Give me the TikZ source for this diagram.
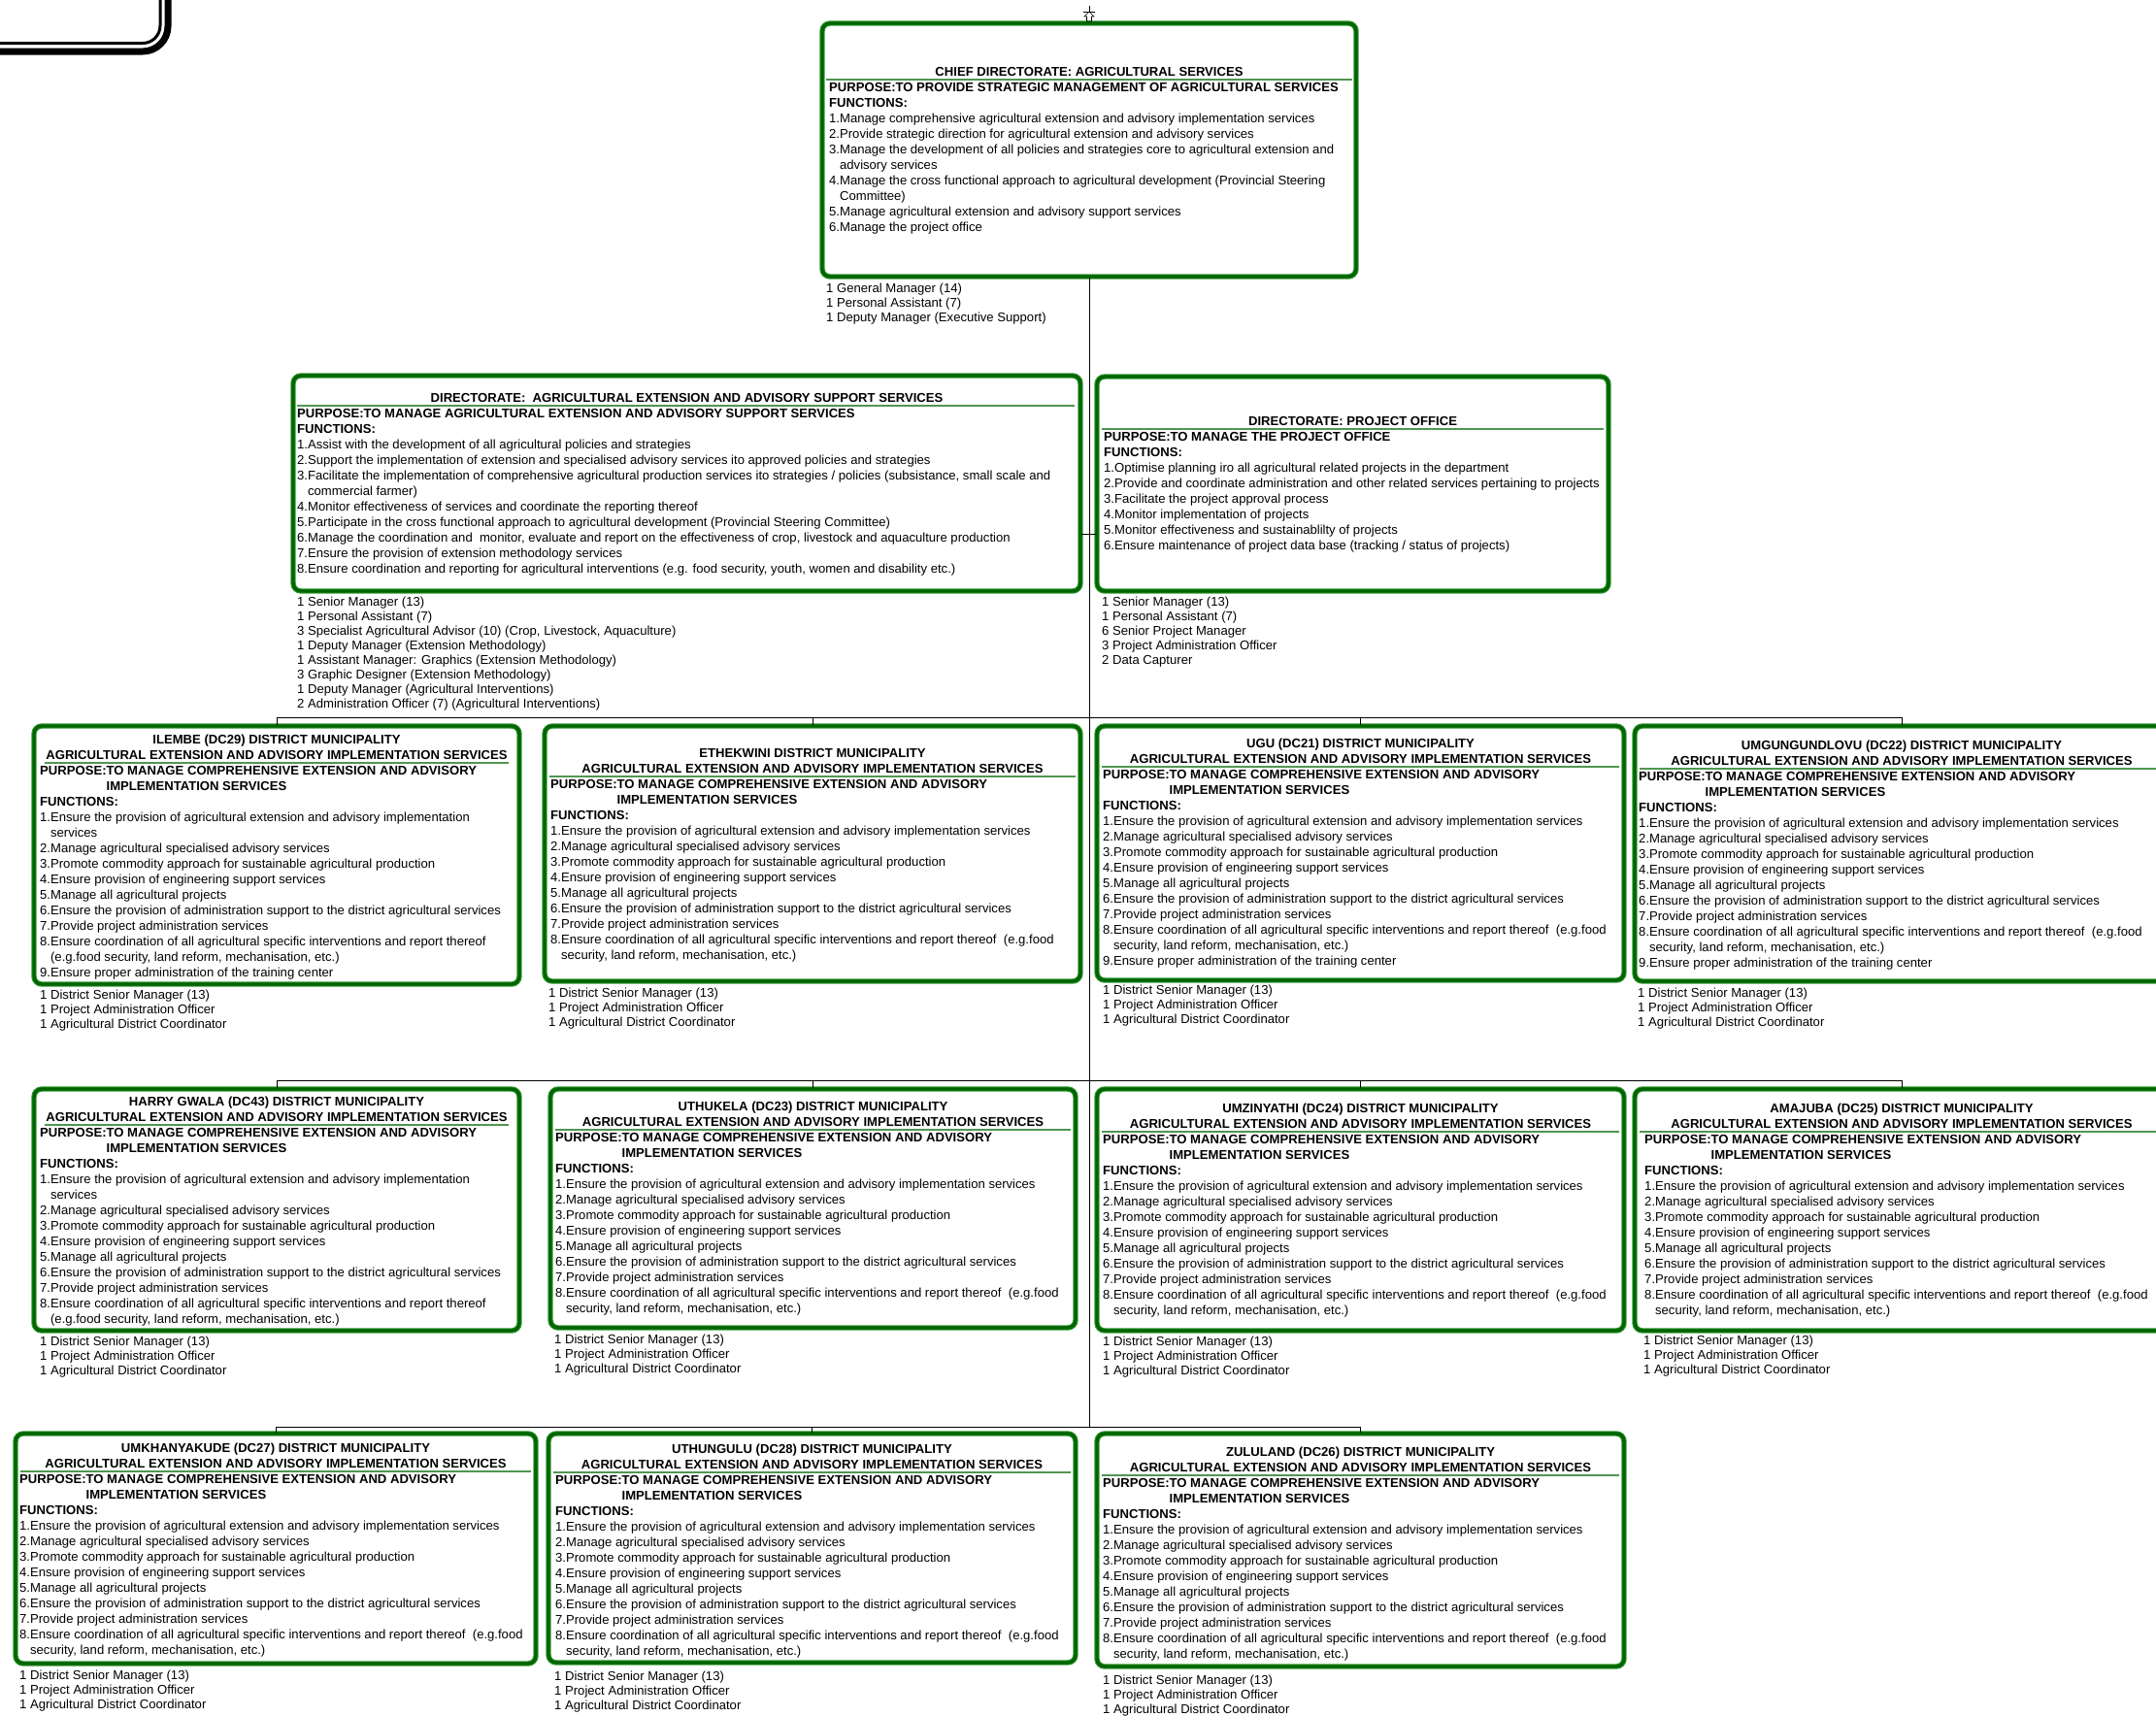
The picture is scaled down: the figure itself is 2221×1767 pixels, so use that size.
\documentclass[tikz,border=0pt]{standalone}
\usepackage{fontspec}
\setmainfont{Liberation Sans}
\definecolor{boxgreen}{RGB}{0,100,0}
\definecolor{edgegreen}{RGB}{50,150,50}
\definecolor{rulegreen}{RGB}{80,150,80}
\newcommand{\unittitle}[1]{\strut #1 DISTRICT MUNICIPALITY\\AGRICULTURAL EXTENSION AND ADVISORY IMPLEMENTATION SERVICES}
\newcommand{\unitpurpose}{\strut\textbf{PURPOSE:TO MANAGE COMPREHENSIVE EXTENSION AND ADVISORY}\\
  \textbf{\phantom{PURPOSE:}IMPLEMENTATION SERVICES}\\
  \textbf{FUNCTIONS:}}
\newcommand{\funcone}{1.Ensure the provision of agricultural extension and advisory implementation services}
\newcommand{\funconewrap}{1.Ensure the provision of agricultural extension and advisory implementation\\\phantom{1.}services}
\newcommand{\funcmid}{2.Manage agricultural specialised advisory services\\
  3.Promote commodity approach for sustainable agricultural production\\
  4.Ensure provision of engineering support services\\
  5.Manage all agricultural projects\\
  6.Ensure the provision of administration support to the district agricultural services\\
  7.Provide project administration services}
\newcommand{\funceight}{8.Ensure coordination of all agricultural specific interventions and report thereof\ \ (e.g.food\\\phantom{8.}security, land reform, mechanisation, etc.)}
\newcommand{\funceightwrap}{8.Ensure coordination of all agricultural specific interventions and report thereof\\\phantom{8.}(e.g.food security, land reform, mechanisation, etc.)}
\newcommand{\funcnine}{9.Ensure proper administration of the training center}
\newcommand{\unitstaff}{\strut 1 District Senior Manager (13)\\1 Project Administration Officer\\1 Agricultural District Coordinator}
\begin{document}
\begin{tikzpicture}
    [
    x=1pt, y=-1pt,
    unitbox/.style={draw=edgegreen, double=boxgreen, double distance=3.2pt, line width=1.1pt, rounded corners=8pt},
    titletext/.style={anchor=north, align=center, inner sep=0pt, font=\bfseries\fontsize{13.1}{16}\selectfont},
    bodytext/.style={anchor=north west, align=left, inner sep=0pt, font=\fontsize{13.1}{16}\selectfont},
    stafftext/.style={anchor=north west, align=left, inner sep=0pt, font=\fontsize{13.1}{15}\selectfont},
    titlerule/.style={draw=rulegreen, line width=1.2pt},
    link/.style={draw, line width=1pt}
    ]
    \useasboundingbox (0,0) rectangle (2221,1767);
    \clip (0,0) rectangle (2221,1767);
    % corner of the page frame
    \draw [line width=7pt, rounded corners=26pt] (-100,-100) rectangle (173,53);
    \draw [line width=3pt, rounded corners=18pt] (-100,-100) rectangle (165,44.5);
    % chief directorate
    \node (chief) at (1122,154.5) [unitbox, minimum width=550pt, minimum height=261pt] {};
    \draw [line width=0.6pt] (1122,6) -- (1122,12) (1116,12) -- (1128,12);
    \draw [line width=0.6pt] (1122,12) -- (1127,17) -- (1124.5,17) -- (1124.5,22) -- (1119.5,22) -- (1119.5,17) -- (1117,17) -- cycle;
    \node (chieftitle) at (1122,67.5) [titletext] {\strut CHIEF DIRECTORATE: AGRICULTURAL SERVICES};
    \draw [titlerule] (851,82) -- (1393,82);
    \node (chiefbody) at (854,83.5) [bodytext] {\strut\textbf{PURPOSE:TO PROVIDE STRATEGIC MANAGEMENT OF AGRICULTURAL SERVICES}\\
      \textbf{FUNCTIONS:}\\
      1.Manage comprehensive agricultural extension and advisory implementation services\\
      2.Provide strategic direction for agricultural extension and advisory services\\
      3.Manage the development of all policies and strategies core to agricultural extension and\\
      \phantom{3.}advisory services\\
      4.Manage the cross functional approach to agricultural development (Provincial Steering\\
      \phantom{4.}Committee)\\
      5.Manage agricultural extension and advisory support services\\
      6.Manage the project office};
    \node (chiefstaff) at (851,291.2) [stafftext] {\strut 1 General Manager (14)\\1 Personal Assistant (7)\\1 Deputy Manager (Executive Support)};
    % directorates
    \node (dae) at (707.5,498) [unitbox, minimum width=811pt, minimum height=222pt] {};
    \node (daetitle) at (707.5,403.5) [titletext] {\strut DIRECTORATE:\ \ AGRICULTURAL EXTENSION AND ADVISORY SUPPORT SERVICES};
    \draw [titlerule] (306,418) -- (1107,418);
    \node (daebody) at (306,419.5) [bodytext] {\strut\textbf{PURPOSE:TO MANAGE AGRICULTURAL EXTENSION AND ADVISORY SUPPORT SERVICES}\\
      \textbf{FUNCTIONS:}\\
      1.Assist with the development of all agricultural policies and strategies\\
      2.Support the implementation of extension and specialised advisory services ito approved policies and strategies\\
      3.Facilitate the implementation of comprehensive agricultural production services ito strategies / policies (subsistance, small scale and\\
      \phantom{3.}commercial farmer)\\
      4.Monitor effectiveness of services and coordinate the reporting thereof\\
      5.Participate in the cross functional approach to agricultural development (Provincial Steering Committee)\\
      6.Manage the coordination and\ \ monitor, evaluate and report on the effectiveness of crop, livestock and aquaculture production\\
      7.Ensure the provision of extension methodology services\\
      8.Ensure coordination and reporting for agricultural interventions (e.g. food security, youth, women and disability etc.)};
    \node (daestaff) at (306,614.2) [stafftext] {\strut 1 Senior Manager (13)\\1 Personal Assistant (7)\\
      3 Specialist Agricultural Advisor (10) (Crop, Livestock, Aquaculture)\\
      1 Deputy Manager (Extension Methodology)\\1 Assistant Manager: Graphics (Extension Methodology)\\
      3 Graphic Designer (Extension Methodology)\\1 Deputy Manager (Agricultural Interventions)\\
      2 Administration Officer (7) (Agricultural Interventions)};
    \node (dpo) at (1393.5,498.5) [unitbox, minimum width=527pt, minimum height=221pt] {};
    \node (dpotitle) at (1393.5,427.5) [titletext] {\strut DIRECTORATE: PROJECT OFFICE};
    \draw [titlerule] (1135,442) -- (1652,442);
    \node (dpobody) at (1137,443.5) [bodytext] {\strut\textbf{PURPOSE:TO MANAGE THE PROJECT OFFICE}\\
      \textbf{FUNCTIONS:}\\
      1.Optimise planning iro all agricultural related projects in the department\\
      2.Provide and coordinate administration and other related services pertaining to projects\\
      3.Facilitate the project approval process\\
      4.Monitor implementation of projects\\
      5.Monitor effectiveness and sustainablilty of projects\\
      6.Ensure maintenance of project data base (tracking / status of projects)};
    \node (dpostaff) at (1135,614.2) [stafftext] {\strut 1 Senior Manager (13)\\1 Personal Assistant (7)\\6 Senior Project Manager\\3 Project Administration Officer\\2 Data Capturer};
    % districts, first row
    \node (ilembe) at (285,881) [unitbox, minimum width=500pt, minimum height=266pt] {};
    \node (ilembetitle) at (285,755.5) [titletext] {\unittitle{ILEMBE (DC29)}};
    \draw [titlerule] (46,786) -- (524,786);
    \node (ilembebody) at (41,787.5) [bodytext] {\unitpurpose\\\funconewrap\\\funcmid\\\funceightwrap\\\funcnine};
    \node (ilembestaff) at (41,1019.2) [stafftext] {\unitstaff};
    \node (ethekwini) at (837,879.5) [unitbox, minimum width=552pt, minimum height=263pt] {};
    \node (ethekwinititle) at (837,769.5) [titletext] {\unittitle{ETHEKWINI}};
    \draw [titlerule] (566,800) -- (1108,800);
    \node (ethekwinibody) at (567,801.5) [bodytext] {\unitpurpose\\\funcone\\\funcmid\\\funceight};
    \node (ethekwinistaff) at (565,1017.2) [stafftext] {\unitstaff};
    \node (ugu) at (1401.5,879) [unitbox, minimum width=543pt, minimum height=262pt] {};
    \node (ugutitle) at (1401.5,759.5) [titletext] {\unittitle{UGU (DC21)}};
    \draw [titlerule] (1135,790) -- (1668,790);
    \node (ugubody) at (1136,791.5) [bodytext] {\unitpurpose\\\funcone\\\funcmid\\\funceight\\\funcnine};
    \node (ugustaff) at (1136,1014.2) [stafftext] {\unitstaff};
    \node (umg) at (1959,879.5) [unitbox, minimum width=550pt, minimum height=263pt] {};
    \node (umgtitle) at (1959,761.5) [titletext] {\unittitle{UMGUNGUNDLOVU (DC22)}};
    \draw [titlerule] (1689,792) -- (2229,792);
    \node (umgbody) at (1688,793.5) [bodytext] {\unitpurpose\\\funcone\\\funcmid\\\funceight\\\funcnine};
    \node (umgstaff) at (1687,1017.2) [stafftext] {\unitstaff};
    % districts, second row
    \node (harry) at (285,1246.5) [unitbox, minimum width=500pt, minimum height=249pt] {};
    \node (harrytitle) at (285,1128.5) [titletext] {\unittitle{HARRY GWALA (DC43)}};
    \draw [titlerule] (46,1159) -- (524,1159);
    \node (harrybody) at (41,1160.5) [bodytext] {\unitpurpose\\\funconewrap\\\funcmid\\\funceightwrap};
    \node (harrystaff) at (41,1376.2) [stafftext] {\unitstaff};
    \node (uthukela) at (837.5,1245) [unitbox, minimum width=541pt, minimum height=246pt] {};
    \node (uthukelatitle) at (837.5,1133.5) [titletext] {\unittitle{UTHUKELA (DC23)}};
    \draw [titlerule] (572,1164) -- (1103,1164);
    \node (uthukelabody) at (572,1165.5) [bodytext] {\unitpurpose\\\funcone\\\funcmid\\\funceight};
    \node (uthukelastaff) at (571,1374.2) [stafftext] {\unitstaff};
    \node (umzinyathi) at (1401.5,1246.5) [unitbox, minimum width=543pt, minimum height=249pt] {};
    \node (umzinyathititle) at (1401.5,1135.5) [titletext] {\unittitle{UMZINYATHI (DC24)}};
    \draw [titlerule] (1135,1166) -- (1668,1166);
    \node (umzinyathibody) at (1136,1167.5) [bodytext] {\unitpurpose\\\funcone\\\funcmid\\\funceight};
    \node (umzinyathistaff) at (1136,1376.2) [stafftext] {\unitstaff};
    \node (amajuba) at (1959,1246.5) [unitbox, minimum width=550pt, minimum height=249pt] {};
    \node (amajubatitle) at (1959,1135.5) [titletext] {\unittitle{AMAJUBA (DC25)}};
    \draw [titlerule] (1689,1166) -- (2229,1166);
    \node (amajubabody) at (1694,1167.5) [bodytext] {\unitpurpose\\\funcone\\\funcmid\\\funceight};
    \node (amajubastaff) at (1693,1375.2) [stafftext] {\unitstaff};
    % districts, third row
    \node (umkhanyakude) at (284,1595.5) [unitbox, minimum width=536pt, minimum height=237pt] {};
    \node (umkhanyakudetitle) at (284,1485.5) [titletext] {\unittitle{UMKHANYAKUDE (DC27)}};
    \draw [titlerule] (21,1516) -- (547,1516);
    \node (umkhanyakudebody) at (20,1517.5) [bodytext] {\unitpurpose\\\funcone\\\funcmid\\\funceight};
    \node (umkhanyakudestaff) at (20,1720.2) [stafftext] {\unitstaff};
    \node (uthungulu) at (836.5,1595) [unitbox, minimum width=543pt, minimum height=236pt] {};
    \node (uthungulutitle) at (836.5,1486.5) [titletext] {\unittitle{UTHUNGULU (DC28)}};
    \draw [titlerule] (570,1517) -- (1103,1517);
    \node (uthungulubody) at (572,1518.5) [bodytext] {\unitpurpose\\\funcone\\\funcmid\\\funceight};
    \node (uthungulustaff) at (571,1721.2) [stafftext] {\unitstaff};
    \node (zululand) at (1401.5,1597) [unitbox, minimum width=543pt, minimum height=240pt] {};
    \node (zululandtitle) at (1401.5,1489.5) [titletext] {\unittitle{ZULULAND (DC26)}};
    \draw [titlerule] (1135,1520) -- (1668,1520);
    \node (zululandbody) at (1136,1521.5) [bodytext] {\unitpurpose\\\funcone\\\funcmid\\\funceight};
    \node (zululandstaff) at (1136,1725.2) [stafftext] {\unitstaff};
    % connectors
    \coordinate (dirlink) at (1122,550);
    \coordinate (bus1) at (1122,739);
    \coordinate (bus2) at (1122,1113);
    \coordinate (bus3) at (1122,1470);
    \draw [link] (chief.south) -- (bus3);
    \draw [link] (dae.east |- dirlink) -- (dpo.west |- dirlink);
    \draw [link] (ilembe.north) |- (bus1) -| (umg.north);
    \draw [link] (ethekwini.north) -- (ethekwini.north |- bus1);
    \draw [link] (ugu.north) -- (ugu.north |- bus1);
    \draw [link] (harry.north) |- (bus2) -| (amajuba.north);
    \draw [link] (uthukela.north) -- (uthukela.north |- bus2);
    \draw [link] (umzinyathi.north) -- (umzinyathi.north |- bus2);
    \draw [link] (umkhanyakude.north) |- (bus3) -| (zululand.north);
    \draw [link] (uthungulu.north) -- (uthungulu.north |- bus3);
  \end{tikzpicture}
\end{document}
